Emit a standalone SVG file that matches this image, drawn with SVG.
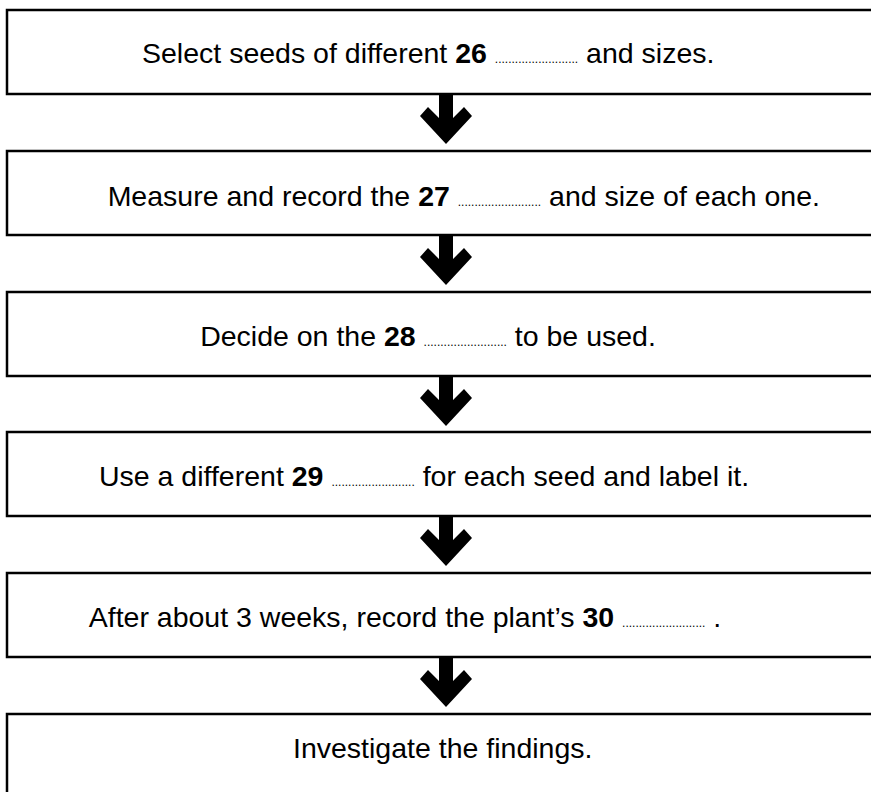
<svg xmlns="http://www.w3.org/2000/svg" xmlns:xlink="http://www.w3.org/1999/xlink" width="871" height="792" viewBox="0 0 871 792">
<style>
.box{fill:#fff;stroke:#000;stroke-width:2.5}
.t{font-family:"Liberation Sans",Arial,sans-serif;font-size:28.5px;fill:#000}
.m{text-anchor:middle}
.e{text-anchor:end}
.b{font-weight:bold}
.d{font-size:12px}
.arr{fill:#000;stroke:none}
</style>
<defs>
<path id="arrow" d="M-7,0 L-7,24 L-18,13 L-26,22 L0,50 L26,22 L18,13 L7,24 L7,0 Z"/>
</defs>
<rect width="871" height="792" fill="#fff"/>
<g id="connectors" class="arr">
<use xlink:href="#arrow" transform="translate(446,94)"/>
<use xlink:href="#arrow" transform="translate(446,235)"/>
<use xlink:href="#arrow" transform="translate(446,376)"/>
<use xlink:href="#arrow" transform="translate(446,516)"/>
<use xlink:href="#arrow" transform="translate(446,657)"/>
</g>
<g id="step1">
<rect class="box" x="7" y="10" width="900" height="84"/>
<text class="t" x="142" y="63">Select seeds of different <tspan class="b">26</tspan> <tspan class="d">.........................</tspan> and sizes.</text>
</g>
<g id="step2">
<rect class="box" x="7" y="151" width="900" height="84"/>
<text class="t e" x="820" y="206">Measure and record the <tspan class="b">27</tspan> <tspan class="d">.........................</tspan> and size of each one.</text>
</g>
<g id="step3">
<rect class="box" x="7" y="292" width="900" height="84"/>
<text class="t m" x="428" y="346">Decide on the <tspan class="b">28</tspan> <tspan class="d">.........................</tspan> to be used.</text>
</g>
<g id="step4">
<rect class="box" x="7" y="432" width="900" height="84"/>
<text class="t" x="99" y="486">Use a different <tspan class="b">29</tspan> <tspan class="d">.........................</tspan> for each seed and label it.</text>
</g>
<g id="step5">
<rect class="box" x="7" y="573" width="900" height="84"/>
<text class="t m" x="405" y="627">After about 3 weeks, record the plant’s <tspan class="b">30</tspan> <tspan class="d">.........................</tspan> .</text>
</g>
<g id="step6">
<rect class="box" x="7" y="714" width="900" height="84"/>
<text class="t" x="293" y="758">Investigate the findings.</text>
</g>
</svg>
